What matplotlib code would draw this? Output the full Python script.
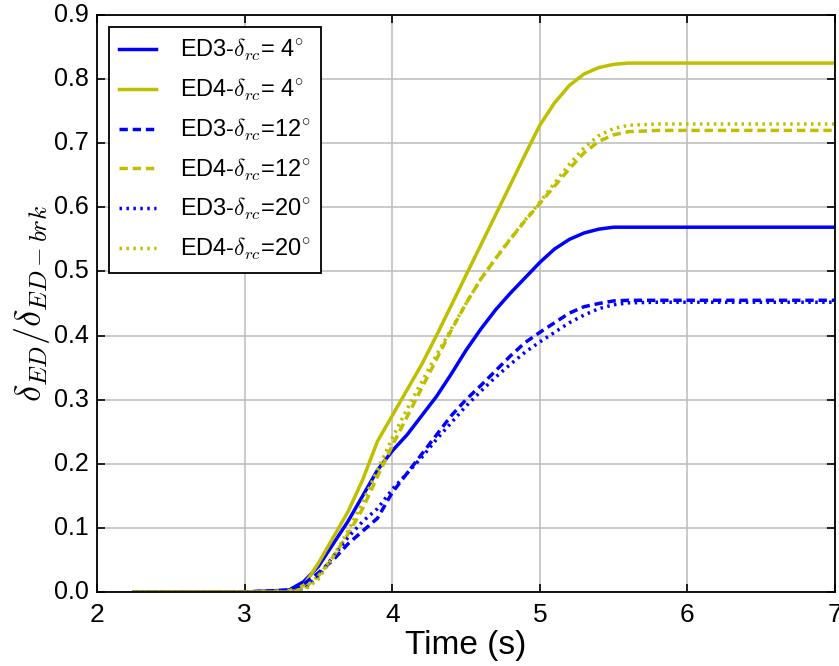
import matplotlib
matplotlib.use("Agg")
import matplotlib.pyplot as plt
from matplotlib import font_manager

# time axis shared by all six curves (s)
t = [2.25, 3.0, 3.3, 3.4, 3.5, 3.6, 3.7, 3.8, 3.9, 4.0, 4.1, 4.2, 4.3, 4.4,
     4.5, 4.6, 4.7, 4.8, 4.9, 5.0, 5.1, 5.2, 5.3, 5.4, 5.5, 5.6, 5.8, 6.0, 7.0]

ed3_4 = [0, 0, 0.003, 0.016, 0.04, 0.075, 0.11, 0.15, 0.19, 0.22, 0.245, 0.275,
         0.305, 0.34, 0.377, 0.41, 0.44, 0.466, 0.49, 0.514, 0.535, 0.55, 0.56,
         0.566, 0.569, 0.569, 0.569, 0.569, 0.569]
ed4_4 = [0, 0, 0.002, 0.01, 0.045, 0.085, 0.125, 0.175, 0.235, 0.275, 0.315, 0.355,
         0.40, 0.447, 0.494, 0.541, 0.588, 0.635, 0.682, 0.728, 0.763, 0.79, 0.808,
         0.818, 0.823, 0.825, 0.825, 0.825, 0.825]
ed3_12 = [0, 0, 0.003, 0.012, 0.03, 0.05, 0.075, 0.095, 0.115, 0.155, 0.185,
          0.215, 0.245, 0.275, 0.30, 0.322, 0.345, 0.368, 0.389, 0.405, 0.42, 0.435,
          0.445, 0.45, 0.454, 0.455, 0.455, 0.455, 0.455]
ed4_12 = [0, 0, 0, 0.005, 0.025, 0.055, 0.09, 0.13, 0.18, 0.228, 0.273, 0.318,
          0.363, 0.408, 0.45, 0.488, 0.52, 0.55, 0.579, 0.606, 0.633, 0.66,
          0.685, 0.703, 0.713, 0.718, 0.72, 0.72, 0.72]
ed3_20 = [0, 0, 0, 0.003, 0.025, 0.055, 0.085, 0.11, 0.13, 0.16, 0.185, 0.21,
          0.238, 0.264, 0.29, 0.313, 0.335, 0.355, 0.374, 0.39, 0.405, 0.42,
          0.432, 0.442, 0.448, 0.451, 0.452, 0.452, 0.452]
ed4_20 = [0, 0, 0, 0.002, 0.02, 0.055, 0.095, 0.14, 0.19, 0.24, 0.285, 0.328,
          0.37, 0.41, 0.45, 0.488, 0.52, 0.551, 0.58, 0.608, 0.638, 0.667, 0.693,
          0.712, 0.723, 0.728, 0.73, 0.73, 0.73]

names = [f.name for f in font_manager.fontManager.ttflist]
narrow = "Liberation Sans Narrow" if "Liberation Sans Narrow" in names else "Liberation Sans"

plt.style.use("classic")
plt.rcParams["font.family"] = "Liberation Sans"
plt.rcParams["mathtext.fontset"] = "cm"
plt.rcParams["lines.scale_dashes"] = False

fig = plt.figure(figsize=(8.39, 6.66), dpi=100, facecolor="white")
ax = fig.add_axes([97 / 839, 74 / 666, 738 / 839, 577 / 666])

lw = 2.5
dash = (6, 3.5)
dot = (1.8, 3.2)
ax.plot(t, ed3_4, color="b", lw=lw, label=r"ED3-$\delta_{rc}$= 4$^{\circ}$")
ax.plot(t, ed4_4, color="y", lw=lw, label=r"ED4-$\delta_{rc}$= 4$^{\circ}$")
ax.plot(t, ed3_12, color="b", lw=lw, dashes=dash, label=r"ED3-$\delta_{rc}$=12$^{\circ}$")
ax.plot(t, ed4_12, color="y", lw=lw, dashes=dash, label=r"ED4-$\delta_{rc}$=12$^{\circ}$")
ax.plot(t, ed3_20, color="b", lw=lw, dashes=dot, label=r"ED3-$\delta_{rc}$=20$^{\circ}$")
ax.plot(t, ed4_20, color="y", lw=lw, dashes=dot, label=r"ED4-$\delta_{rc}$=20$^{\circ}$")

ax.set_xlim(2, 7)
ax.set_ylim(0, 0.9)
ax.set_xticks([2, 3, 4, 5, 6, 7])
ax.set_yticks([0.0, 0.1, 0.2, 0.3, 0.4, 0.5, 0.6, 0.7, 0.8, 0.9])
ax.set_yticklabels(["0.0", "0.1", "0.2", "0.3", "0.4", "0.5", "0.6", "0.7", "0.8", "0.9"])
ax.grid(True, color="#c0c0c0", linestyle="-", linewidth=1.2)
ax.set_axisbelow(True)
for s in ax.spines.values():
    s.set_linewidth(1.3)
ax.tick_params(which="both", direction="in", length=6, width=1.2, top=True, right=True)
ax.tick_params(axis="y", labelsize=18, pad=6)
ax.tick_params(axis="x", labelsize=19, pad=8)
for lab in ax.get_xticklabels():
    lab.set_family(narrow)

ax.set_xlabel("Time (s)", fontsize=24, family=narrow, labelpad=2)
ax.set_ylabel(r"$\delta_{ED}/\delta_{ED-brk}$", fontsize=26, labelpad=1)

leg = ax.legend(loc="upper left", fontsize=17, handlelength=1.55, handletextpad=1.0,
                labelspacing=0.58, borderaxespad=0.5, borderpad=0.45, numpoints=1)
leg.get_frame().set_edgecolor("black")
leg.get_frame().set_linewidth(1.3)

fig.savefig("out.png", dpi=100, facecolor="white")
